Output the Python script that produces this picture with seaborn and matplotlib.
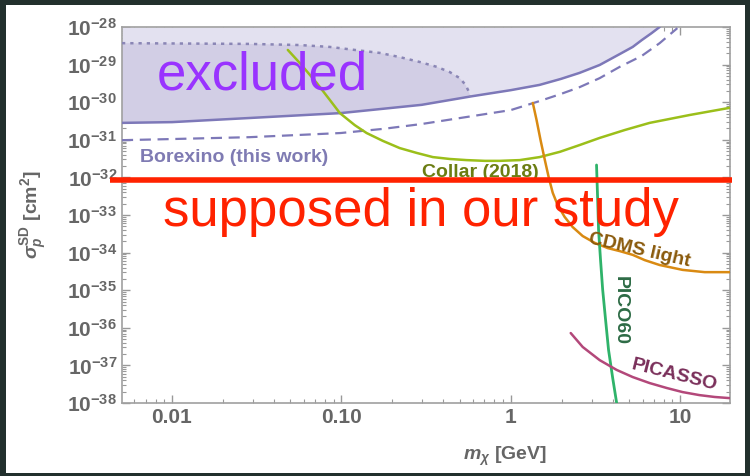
import numpy as np
import pandas as pd
import matplotlib
matplotlib.use('Agg')
import matplotlib.pyplot as plt
import matplotlib.ticker as mticker
from matplotlib.patches import Rectangle
import seaborn as sns

# --- data (mass in GeV, cross section as log10 exponent) ---
borex_solid_m = [0.00507, 0.01, 0.0288, 0.099, 0.298, 0.593, 1.0, 1.48, 1.98, 2.55,
                 3.35, 4.40, 5.25, 5.93, 6.80, 7.57]
borex_solid_e = [-30.55, -30.53, -30.42, -30.29, -30.07, -29.84, -29.68, -29.54, -29.38,
                 -29.22, -29.01, -28.72, -28.53, -28.35, -28.16, -28.0]

borex_dash_m = [0.00507, 0.01, 0.0288, 0.0569, 0.099, 0.176, 0.298, 0.593, 1.0, 1.48,
                1.98, 2.55, 3.35, 4.40, 5.93, 7.57, 9.63]
borex_dash_e = [-31.01, -30.98, -30.93, -30.87, -30.82, -30.71, -30.58, -30.37, -30.21,
                -29.97, -29.78, -29.60, -29.36, -29.06, -28.77, -28.43, -28.03]

borex_dot_m = [0.00507, 0.0288, 0.0569, 0.0855, 0.120, 0.169, 0.221, 0.290, 0.366,
               0.437, 0.50, 0.541, 0.563, 0.579]
borex_dot_e = [-28.43, -28.45, -28.48, -28.53, -28.61, -28.69, -28.80, -28.93, -29.06,
               -29.20, -29.36, -29.54, -29.70, -29.85]

collar_m = [0.0483, 0.0569, 0.0716, 0.0855, 0.098, 0.120, 0.141, 0.176, 0.221, 0.279,
            0.347, 0.437, 0.549, 0.703, 0.861, 1.13, 1.48, 1.95, 2.55, 3.35, 4.71,
            6.61, 11.4, 19.6]
collar_e = [-28.61, -28.96, -29.49, -29.94, -30.29, -30.61, -30.82, -31.03, -31.22,
            -31.35, -31.46, -31.51, -31.54, -31.56, -31.56, -31.54, -31.46, -31.32,
            -31.14, -30.95, -30.74, -30.55, -30.34, -30.15]

cdms_m = [1.35, 1.42, 1.50, 1.59, 1.68, 1.77, 1.89, 2.08, 2.32, 2.66, 3.13, 3.74,
          4.40, 5.25, 6.18, 7.57, 10.35, 13.96, 19.6]
cdms_e = [-30.02, -30.47, -31.01, -31.54, -32.02, -32.41, -32.73, -33.05, -33.32,
          -33.56, -33.74, -33.88, -33.96, -34.06, -34.20, -34.33, -34.46, -34.52, -34.52]

pico_m = [3.21, 3.26, 3.30, 3.39, 3.49, 3.63, 3.78, 4.00, 4.22]
pico_e = [-31.67, -32.60, -33.40, -34.20, -34.99, -35.79, -36.59, -37.34, -38.0]

picasso_m = [2.26, 2.66, 3.35, 4.22, 5.25, 6.61, 8.32, 10.35, 13.0, 16.0, 19.6]
picasso_e = [-36.14, -36.51, -36.86, -37.12, -37.31, -37.47, -37.60, -37.71, -37.79,
             -37.84, -37.87]

supposed_e = -32.07
supposed_m = [0.0043, 20.2]

x_ticks = [0.01, 0.1, 1, 10]
x_ticklabels = ['0.01', '0.10', '1', '10']
y_exponents = list(range(-38, -27))

# --- style ---
sns.set_style('white')
plt.rcParams['font.family'] = ['Liberation Sans', 'DejaVu Sans']
plt.rcParams['mathtext.fontset'] = 'custom'
plt.rcParams['mathtext.rm'] = 'Liberation Sans:bold'
plt.rcParams['mathtext.it'] = 'Liberation Sans:italic:bold'
plt.rcParams['mathtext.bf'] = 'Liberation Sans:bold'

fig = plt.figure(figsize=(7.5, 4.76), dpi=100, facecolor='#22302d')
# white slide panel behind the axes
fig.patches.append(Rectangle((6 / 750, 1 - 473 / 476), 739 / 750, 468 / 476,
                             transform=fig.transFigure, facecolor='white',
                             edgecolor='none', zorder=-5))
ax = fig.add_axes([122 / 750, 1 - 403 / 476, 608 / 750, 376 / 476])
ax.set_xscale('log')
ax.set_yscale('log')
ax.set_xlim(0.00507, 19.7)
ax.set_ylim(1e-38, 1e-28)


def curve(m, e):
    return pd.DataFrame({'m': m, 's': 10.0 ** np.array(e)})


# shaded excluded regions
ax.fill_between(borex_solid_m, 10.0 ** np.array(borex_solid_e), 1e-28,
                color='#e3e1f0', lw=0, zorder=1)
dark_m = borex_dot_m + [m for m in borex_solid_m if m < 0.579][::-1]
dark_e = borex_dot_e + [e for m, e in zip(borex_solid_m, borex_solid_e) if m < 0.579][::-1]
ax.fill(dark_m, 10.0 ** np.array(dark_e), color='#d2cee5', lw=0, zorder=1)

sns.lineplot(data=curve(borex_solid_m, borex_solid_e), x='m', y='s', ax=ax,
             color='#7d78b8', lw=1.8, sort=False, estimator=None, zorder=3)
sns.lineplot(data=curve(borex_dash_m, borex_dash_e), x='m', y='s', ax=ax,
             color='#7d78b8', lw=1.6, sort=False, estimator=None, zorder=3,
             linestyle=(0, (5, 3)))
sns.lineplot(data=curve(borex_dot_m, borex_dot_e), x='m', y='s', ax=ax,
             color='#8a86b5', lw=1.8, sort=False, estimator=None, zorder=3,
             linestyle=(0, (1.3, 2.0)))
sns.lineplot(data=curve(collar_m, collar_e), x='m', y='s', ax=ax,
             color='#9bbf1a', lw=1.8, sort=False, estimator=None, zorder=3)
sns.lineplot(data=curve(cdms_m, cdms_e), x='m', y='s', ax=ax,
             color='#d98a12', lw=1.8, sort=False, estimator=None, zorder=3)
sns.lineplot(data=curve(pico_m, pico_e), x='m', y='s', ax=ax,
             color='#2fb36a', lw=2.0, sort=False, estimator=None, zorder=3)
sns.lineplot(data=curve(picasso_m, picasso_e), x='m', y='s', ax=ax,
             color='#b3487a', lw=1.8, sort=False, estimator=None, zorder=3)

# curve labels
lab = dict(fontsize=14, fontweight='bold', zorder=4)
ax.text(0.00647, 10 ** -31.48, 'Borexino (this work)', color='#7f7bb3',
        ha='left', va='center', **lab)
ax.text(0.665, 10 ** -31.86, 'Collar (2018)', color='#6b7d12',
        ha='center', va='center', **lab)
ax.text(5.77, 10 ** -33.93, 'CDMS light', color='#8a5a0c', rotation=-13,
        ha='center', va='center', **lab)
ax.text(4.45, 10 ** -35.55, 'PICO60', color='#2d6b45', rotation=-90,
        ha='center', va='center', **lab)
ax.text(9.29, 10 ** -37.26, 'PICASSO', color='#7a2f5a', rotation=-14,
        ha='center', va='center', **lab)

# annotations
ax.text(0.00816, 10 ** -29.65, 'excluded', color='#9933ff', fontsize=38,
        ha='left', va='baseline', zorder=5)
ax.plot(supposed_m, [10 ** supposed_e] * 2, color='#ff2200', lw=4,
        clip_on=False, zorder=6, solid_capstyle='butt')
ax.text(0.00885, 10 ** -33.29, 'supposed in our study', color='#ff2200',
        fontsize=38, ha='left', va='baseline', zorder=5)

# axes, ticks
ax.set_xticks(x_ticks)
ax.set_xticklabels(x_ticklabels)
ax.set_yticks([10.0 ** e for e in y_exponents])
ax.set_yticklabels([r'$\mathbf{10^{%d}}$' % e for e in y_exponents])
ax.xaxis.set_minor_locator(mticker.LogLocator(base=10, subs=np.arange(2, 10), numticks=20))
ax.yaxis.set_minor_locator(mticker.LogLocator(base=10, subs=np.arange(2, 10), numticks=40))
ax.xaxis.set_minor_formatter(mticker.NullFormatter())
ax.yaxis.set_minor_formatter(mticker.NullFormatter())
ax.tick_params(which='both', direction='in', bottom=True, left=True, top=True,
               right=True, color='#999999', labelcolor='#666666')
ax.tick_params(which='major', length=6, width=1, labelsize=15)
ax.tick_params(which='minor', length=3, width=0.8)
for lbl in ax.get_xticklabels():
    lbl.set_fontweight('bold')
for sp in ax.spines.values():
    sp.set_color('#a0a0a0')
    sp.set_linewidth(1.2)

ax.set_xlabel(r'$m_\chi$ [GeV]', fontsize=14, fontweight='bold', color='#666666')
ax.set_ylabel(r'$\sigma_p^{\mathrm{SD}}$ [cm$^2$]', fontsize=14,
              fontweight='bold', color='#666666')
ax.xaxis.set_label_coords(0.63, -0.11)
ax.yaxis.set_label_coords(-0.12, 0.5)

fig.savefig('out.png', dpi=100, facecolor=fig.get_facecolor())
